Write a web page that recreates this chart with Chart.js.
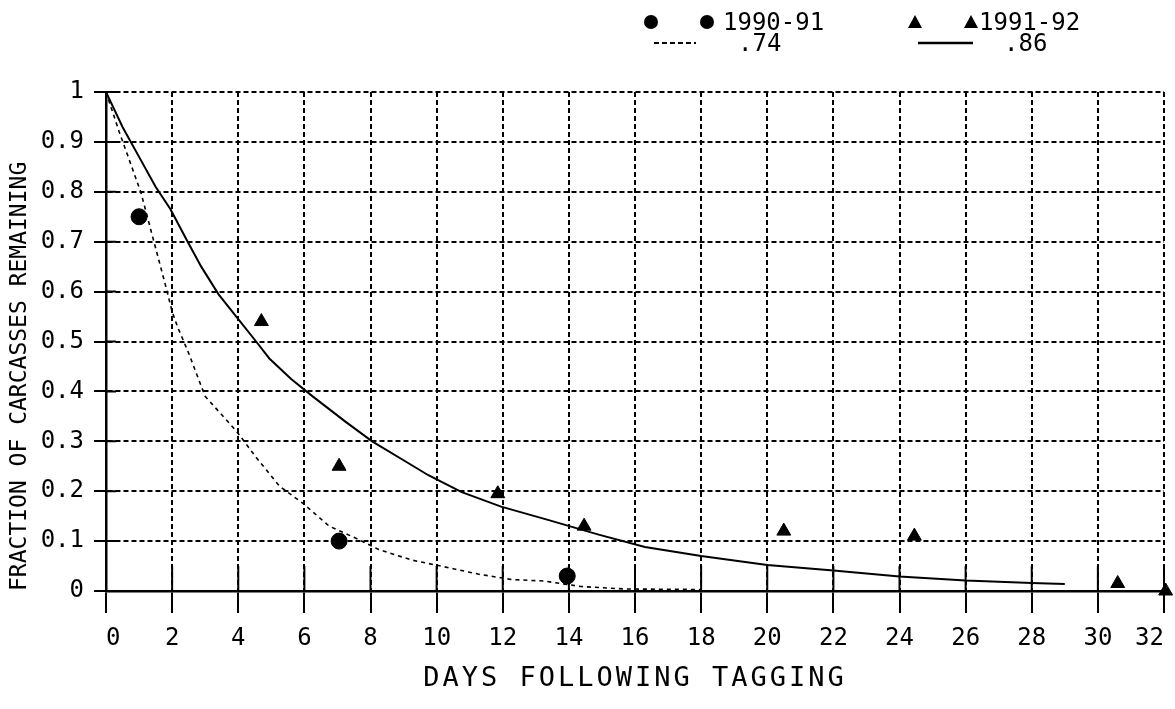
<!DOCTYPE html>
<html>
<head>
<meta charset="utf-8">
<script src="https://cdn.jsdelivr.net/npm/chart.js@4.4.1/dist/chart.umd.min.js"></script>
<style>
  html, body { margin: 0; padding: 0; background: #fff; }
  #wrap { position: relative; width: 1175px; height: 709px; }
  #legend { position: absolute; left: 0; top: 0; width: 1175px; height: 60px;
            font-family: "DejaVu Sans Mono", monospace; font-size: 24px; color: #000; }
  .leg { position: absolute; height: 26px; }
  .leg svg { position: absolute; top: 0; }
  .leg span { position: absolute; top: 0; line-height: 26px; white-space: nowrap; }
</style>
</head>
<body>
<div id="wrap">
  <canvas id="chart" width="1175" height="709"></canvas>
  <div id="legend"></div>
</div>
<script>
// Carcass persistence: fraction remaining vs days after tagging

const xTickLabels = ['0', '2', '4', '6', '8', '10', '12', '14', '16', '18', '20', '22', '24', '26', '28', '30', '32']
const yTickLabels = ['0', '0.1', '0.2', '0.3', '0.4', '0.5', '0.6', '0.7', '0.8', '0.9', '1']

const days9091 = [1.0, 7.05, 13.95]
const frac9091 = [0.75, 0.10, 0.03]
const days9192 = [4.7, 7.05, 11.85, 14.46, 20.5, 24.45, 30.6, 32.05]
const frac9192 = [0.54, 0.25, 0.195, 0.13, 0.12, 0.11, 0.015, 0.0]

// fitted curves (.74 dashed, .86 solid)
const fit74Days = [0, 0.4, 1.05, 1.33, 1.57, 1.81, 2.0, 2.16, 2.48, 3.0, 3.95, 4.55, 5.25, 5.95, 6.75, 7.65, 8.25, 9.25, 10.05, 11.25, 12.26, 13.25, 14.36, 15.7, 18.0]
const fit74Frac = [1.0, 0.92, 0.80, 0.73, 0.67, 0.61, 0.56, 0.53, 0.48, 0.39, 0.32, 0.267, 0.21, 0.176, 0.13, 0.103, 0.083, 0.062, 0.051, 0.034, 0.023, 0.02, 0.009, 0.004, 0.003]
const fit86Days = [0, 0.5, 1.0, 1.5, 1.95, 2.47, 2.88, 3.4, 3.94, 4.54, 4.94, 5.6, 6.25, 7.25, 8.05, 9.0, 9.75, 10.76, 11.95, 13.34, 14.9, 16.3, 18, 20, 22, 24, 26, 28, 29]
const fit86Frac = [1.0, 0.93, 0.87, 0.81, 0.765, 0.70, 0.65, 0.595, 0.55, 0.50, 0.466, 0.425, 0.39, 0.339, 0.30, 0.262, 0.232, 0.198, 0.169, 0.143, 0.113, 0.088, 0.07, 0.052, 0.041, 0.029, 0.021, 0.016, 0.014]

const seriesNames = ['1990-91', '1991-92']
const fitNames = ['.74', '.86']

const zip = (xs, ys) => xs.map((x, i) => ({ x: x, y: ys[i] }))

const INK = '#000'
const FONT = '"DejaVu Sans Mono", monospace'

Chart.defaults.font.family = FONT
Chart.defaults.font.size = 24
Chart.defaults.color = INK

// short solid tick marks on the inside of both axes
const innerTicks = {
  id: 'innerTicks',
  beforeDatasetsDraw(chart) {
    const { ctx, chartArea, scales } = chart
    ctx.save()
    ctx.strokeStyle = INK
    ctx.lineWidth = 2
    ctx.beginPath()
    scales.x.ticks.forEach((t, i) => {
      const px = scales.x.getPixelForTick(i)
      ctx.moveTo(px, chartArea.bottom)
      ctx.lineTo(px, chartArea.bottom - 25)
    })
    scales.y.ticks.forEach((t, i) => {
      const py = scales.y.getPixelForTick(i)
      ctx.moveTo(chartArea.left, py)
      ctx.lineTo(chartArea.left + 10, py)
    })
    ctx.stroke()
    ctx.restore()
  }
}

// the x title in the original is set wide; space the letters out a little
const spacedTitle = {
  id: 'spacedTitle',
  afterLayout(chart) {
    const sc = chart.scales.x
    if (sc._spaced) return
    const orig = sc.drawTitle
    sc.drawTitle = function () {
      this.ctx.save()
      this.ctx.letterSpacing = '3px'
      orig.call(this)
      this.ctx.restore()
    }
    sc._spaced = true
  }
}

const chart = new Chart(document.getElementById('chart'), {
  type: 'scatter',
  data: {
    datasets: [
      {
        label: fitNames[0],
        data: zip(fit74Days, fit74Frac),
        showLine: true,
        borderColor: INK,
        borderWidth: 1.6,
        borderDash: [4, 4],
        pointRadius: 0,
        tension: 0
      },
      {
        label: fitNames[1],
        data: zip(fit86Days, fit86Frac),
        showLine: true,
        borderColor: INK,
        borderWidth: 2,
        pointRadius: 0,
        tension: 0
      },
      {
        label: seriesNames[0],
        data: zip(days9091, frac9091),
        pointStyle: 'circle',
        pointRadius: 8,
        backgroundColor: INK,
        borderColor: INK,
        clip: false
      },
      {
        label: seriesNames[1],
        data: zip(days9192, frac9192),
        pointStyle: 'triangle',
        pointRadius: 8,
        backgroundColor: INK,
        borderColor: INK,
        clip: false
      }
    ]
  },
  options: {
    responsive: false,
    animation: false,
    layout: { padding: { top: 92, right: 10, left: 0, bottom: 0 } },
    plugins: {
      legend: { display: false },
      tooltip: { enabled: false }
    },
    scales: {
      x: {
        type: 'linear',
        min: 0,
        max: 32,
        afterFit: (scale) => { scale.height = 118 },
        ticks: {
          stepSize: 2,
          align: 'inner',
          padding: 11,
          color: INK,
          callback: (value, index) => xTickLabels[index]
        },
        grid: {
          color: INK,
          lineWidth: 2,
          tickLength: 22,
          tickColor: INK,
          tickWidth: 2,
          tickBorderDash: []
        },
        border: { display: true, color: INK, width: 2.5, dash: [5, 3] },
        title: {
          display: true,
          text: 'DAYS FOLLOWING TAGGING',
          color: INK,
          font: { size: 27 },
          padding: { top: 0, bottom: 14 }
        }
      },
      y: {
        min: 0,
        max: 1,
        afterFit: (scale) => { scale.width = 106 },
        ticks: {
          stepSize: 0.1,
          padding: 10,
          color: INK,
          callback: (value, index) => yTickLabels[index]
        },
        grid: {
          color: INK,
          lineWidth: 2,
          tickLength: 12,
          tickColor: INK,
          tickWidth: 2,
          tickBorderDash: []
        },
        border: { display: true, color: INK, width: 2.5, dash: [5, 3] },
        title: {
          display: true,
          text: 'FRACTION OF CARCASSES REMAINING',
          align: 'start',
          color: INK,
          font: { size: 23 },
          padding: { top: 6, bottom: 0 }
        }
      }
    }
  },
  plugins: [innerTicks, spacedTitle]
})

// legend laid out as in the original: two columns, two rows
const legendSlots = [
  { label: seriesNames[0], kind: 'circle', left: 643, top: 9, width: 72, textLeft: 723 },
  { label: seriesNames[1], kind: 'triangle', left: 907, top: 9, width: 72, textLeft: 979 },
  { label: fitNames[0], kind: 'dash', left: 654, top: 30, width: 42, textLeft: 738 },
  { label: fitNames[1], kind: 'solid', left: 918, top: 30, width: 55, textLeft: 1004 }
]

function swatch(kind, w) {
  const h = 26, cy = 13
  let body = ''
  if (kind === 'circle') {
    body = `<circle cx="8" cy="${cy}" r="7" fill="${INK}"/><circle cx="${w - 8}" cy="${cy}" r="7" fill="${INK}"/>`
  } else if (kind === 'triangle') {
    const tri = (cx) => `<polygon points="${cx - 7},${cy + 6} ${cx + 7},${cy + 6} ${cx},${cy - 7}" fill="${INK}"/>`
    body = tri(8) + tri(w - 8)
  } else if (kind === 'dash') {
    body = `<line x1="0" y1="${cy}" x2="${w}" y2="${cy}" stroke="${INK}" stroke-width="2" stroke-dasharray="5 3"/>`
  } else {
    body = `<line x1="0" y1="${cy}" x2="${w}" y2="${cy}" stroke="${INK}" stroke-width="2.5"/>`
  }
  return `<svg width="${w}" height="${h}" style="left:0">${body}</svg>`
}

const legendEl = document.getElementById('legend')
legendSlots.forEach(s => {
  const item = document.createElement('div')
  item.className = 'leg'
  item.style.left = s.left + 'px'
  item.style.top = s.top + 'px'
  item.innerHTML = swatch(s.kind, s.width) +
    `<span style="left:${s.textLeft - s.left}px">${s.label}</span>`
  legendEl.appendChild(item)
})
</script>
</body>
</html>
